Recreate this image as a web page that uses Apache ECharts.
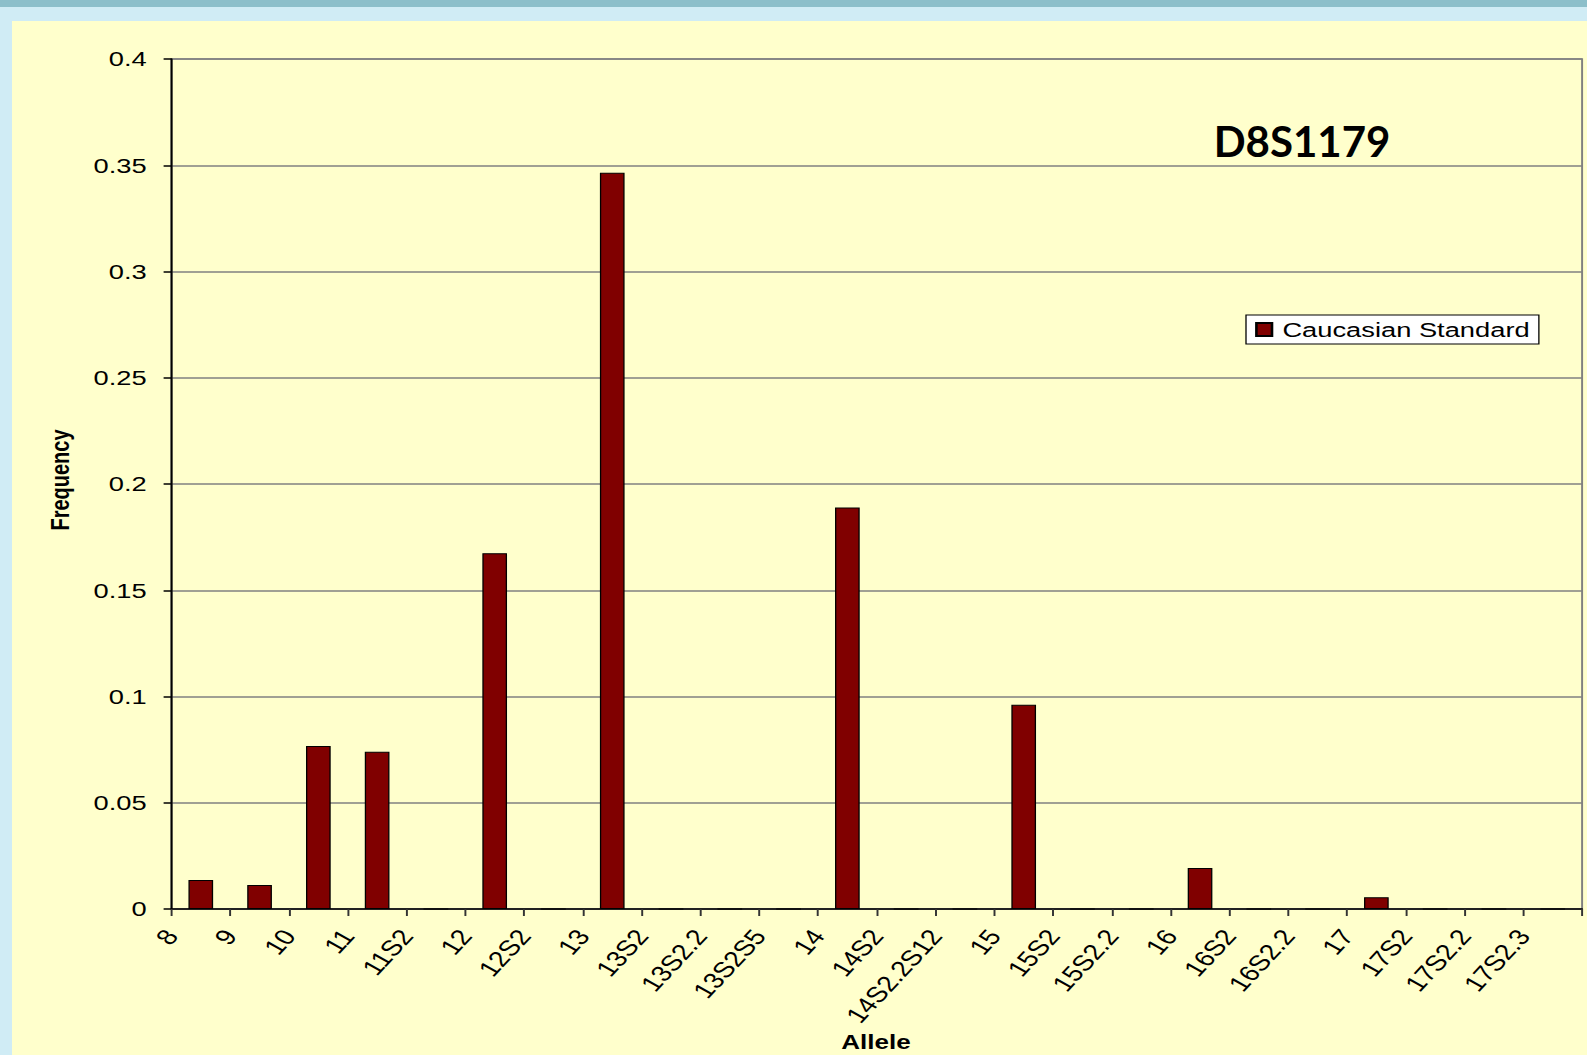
<!DOCTYPE html>
<html>
<head>
<meta charset="utf-8">
<script src="https://cdn.jsdelivr.net/npm/echarts@6/dist/echarts.min.js"></script>
<style>
  html, body { margin: 0; padding: 0; width: 1587px; height: 1055px; overflow: hidden; background: #d0ecf5; }
  #strip { position: absolute; left: 0; top: 0; width: 1587px; height: 7px; background: #8cbfca; }
  #frame { position: absolute; left: 12px; top: 21px; width: 1575px; height: 1034px; background: #ffffcc; }
  /* the original picture is a chart image stretched sideways on a slide */
  #chart1 { position: absolute; left: 0; top: 0; height: 1055px; transform-origin: 0 0; }
</style>
</head>
<body>
<div id="strip"></div>
<div id="frame"></div>
<div id="chart1"></div>
<script>
var alleles = ['8', '9', '10', '11', '11S2', '12', '12S2', '13', '13S2', '13S2.2', '13S2S5',
  '14', '14S2', '14S2.2S12', '15', '15S2', '15S2.2', '16', '16S2', '16S2.2',
  '17', '17S2', '17S2.2', '17S2.3'];
var caucasian = [0.0136, 0.0113, 0.0767, 0.074, 0, 0.1674, 0, 0.3465, 0, 0, 0,
  0.189, 0, 0, 0.0961, 0, 0, 0.0193, 0, 0,
  0.0055, 0, 0, 0];
var yMin = 0, yMax = 0.4, yStep = 0.05;

var S = 1.3;
var W = 1587 / S;

function createChart() {
  var dom = document.getElementById('chart1');
  dom.style.width = W + 'px';
  dom.style.transform = 'scaleX(' + S + ')';
  var myChart = echarts.init(dom, null, { renderer: 'svg' });
  var font = '"Liberation Sans", Arial, sans-serif';

  var option = {
    animation: false,
    backgroundColor: 'transparent',
    grid: {
      left: 171.4 / S,
      right: W - 1581.8 / S,
      top: 59,
      bottom: 1055 - 909,
      show: true,
      backgroundColor: 'transparent',
      borderColor: '#808080',
      borderWidth: 1.5
    },
    legend: {
      data: ['Caucasian Standard'],
      left: 1246 / S,
      top: 315,
      padding: [4, 7, 4, 7],
      backgroundColor: '#ffffff',
      borderColor: '#000',
      borderWidth: 1,
      itemWidth: 12,
      itemHeight: 13,
      icon: 'rect',
      selectedMode: false,
      textStyle: { fontSize: 21, color: '#000', fontFamily: font, padding: [0, 0, 0, 3] }
    },
    xAxis: [
      {
        type: 'category',
        data: alleles,
        axisLine: { show: true, lineStyle: { color: '#000', width: 1.5 } },
        axisTick: { show: true, interval: 0, length: 7, lineStyle: { color: '#333', width: 1.5 } },
        axisLabel: { show: false, interval: 0 },
        splitLine: { show: false }
      },
      {
        // labels sit on the tick marks, not in the middle of the bars
        type: 'category',
        data: alleles.concat(['']),
        boundaryGap: false,
        position: 'bottom',
        axisLine: { show: false },
        axisTick: { show: false },
        splitLine: { show: false },
        axisLabel: {
          interval: 0,
          rotate: 54,
          margin: 23,
          fontSize: 22,
          color: '#000',
          fontFamily: font
        }
      }
    ],
    yAxis: {
      type: 'value',
      min: yMin,
      max: yMax,
      interval: yStep,
      axisLine: { show: true, lineStyle: { color: '#000', width: 1.5 } },
      axisTick: { show: true, length: 6, lineStyle: { color: '#000', width: 1.5 } },
      axisLabel: { margin: 19, fontSize: 21, color: '#000', fontFamily: font },
      splitLine: { lineStyle: { color: '#808080', width: 1.5 } }
    },
    series: [
      {
        name: 'Caucasian Standard',
        type: 'bar',
        xAxisIndex: 0,
        data: caucasian,
        barCategoryGap: '58%',
        itemStyle: { color: '#800000', borderColor: '#000', borderWidth: 1 }
      }
    ],
    graphic: [
      {
        type: 'text',
        x: 1302 / S,
        y: 141,
        scaleX: 1 / S,
        style: {
          text: 'D8S1179',
          fontSize: 42,
          fontWeight: 'bold',
          fontFamily: 'Lato, "Open Sans", sans-serif',
          fill: '#000',
          align: 'center', verticalAlign: 'middle',
          textAlign: 'center', textVerticalAlign: 'middle'
        }
      },
      {
        type: 'text',
        x: 60 / S,
        y: 480,
        rotation: Math.PI / 2,
        style: {
          text: 'Frequency',
          fontSize: 20,
          fontWeight: 'bold',
          fontFamily: font,
          fill: '#000',
          align: 'center', verticalAlign: 'middle',
          textAlign: 'center', textVerticalAlign: 'middle'
        }
      },
      {
        type: 'text',
        x: 876 / S,
        y: 1042,
        style: {
          text: 'Allele',
          fontSize: 20,
          fontWeight: 'bold',
          fontFamily: font,
          fill: '#000',
          align: 'center', verticalAlign: 'middle',
          textAlign: 'center', textVerticalAlign: 'middle'
        }
      }
    ]
  };

  myChart.setOption(option);
}
createChart();
</script>
</body>
</html>
